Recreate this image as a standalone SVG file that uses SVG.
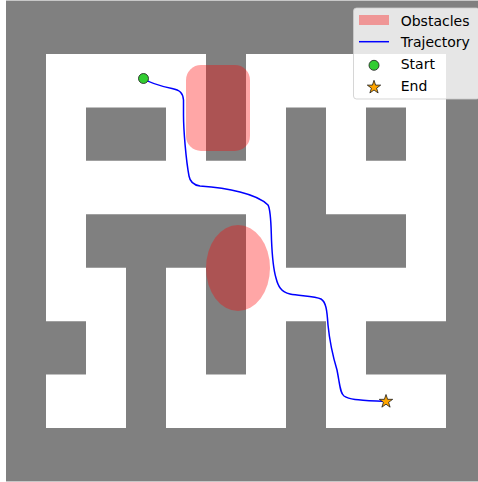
<svg xmlns="http://www.w3.org/2000/svg" width="478" height="482" viewBox="0 0 478 482">
<style>
.wall{fill:#808080}
.floor{fill:#ffffff}
.obst{fill:#ff0000;fill-opacity:0.35}
.traj{fill:none;stroke:#0000ff;stroke-width:1.5;stroke-linejoin:round;stroke-linecap:round}
.start{fill:#32cd32;stroke:#1a1a1a;stroke-width:0.8}
.end{fill:#ffa500;stroke:#1a1a1a;stroke-width:0.8}
.lt{font-family:"DejaVu Sans","Liberation Sans",sans-serif;font-size:14px;fill:#000}
</style>
<defs>
<path id="star" d="M0,-7 L1.587,-2.184 L6.657,-2.163 L2.568,0.834 L4.114,5.663 L0,2.7 L-4.114,5.663 L-2.568,0.834 L-6.657,-2.163 L-1.587,-2.184Z"/>
</defs>
<rect width="478" height="482" fill="#ffffff"/>
<g id="maze">
<rect class="wall" x="6" y="0.57" width="472" height="480.87"/>
<path class="floor" d="M46,54h160v53.43h-160z M246,54h200v53.43h-200z
M46,107.43h40v53.43h-40z M166,107.43h40v53.43h-40z M246,107.43h40v53.43h-40z M326,107.43h40v53.43h-40z M406,107.43h40v53.43h-40z
M46,160.86h240v53.43h-240z M326,160.86h120v53.43h-120z
M46,214.29h40v53.43h-40z M246,214.29h40v53.43h-40z M406,214.29h40v53.43h-40z
M46,267.72h80v53.43h-80z M166,267.72h40v53.43h-40z M246,267.72h200v53.43h-200z
M86,321.15h40v53.43h-40z M166,321.15h40v53.43h-40z M246,321.15h40v53.43h-40z M326,321.15h40v53.43h-40z
M46,374.58h80v53.43h-80z M166,374.58h120v53.43h-120z M326,374.58h120v53.43h-120z"/>
</g>
<g id="obstacles">
<rect class="obst" x="186" y="65" width="64" height="86" rx="15" ry="15"/>
<ellipse class="obst" cx="238" cy="268" rx="32" ry="43"/>
</g>
<g id="connectors">
<path id="trajectory" class="traj" d="M143.5,78.5 C150,83 160,86 172,88.5 C180,90 183,93 183.5,100 L183.5,115 C183.5,130 186,160 189,176 C190,182 193,185 200,186 C215,187 225,188 240,192 C252,195 262,199 268,205 C271,210 271,225 271.5,240 C272,252 273,268 276,278 C278,286 281,292 290,294 C300,296 315,296 321,299 C326,302 327,310 328,325 C330,345 334,360 337,370 C340,385 340,393 344,396 C350,400 360,400 386,401.5"/>
</g>
<g id="start-node">
<circle class="start" cx="143.5" cy="78.5" r="5"/>
</g>
<g id="end-node">
<use href="#star" class="end" transform="translate(386,401.5)"/>
</g>
<g id="legend">
<rect x="353.5" y="8" width="126" height="91" rx="3" ry="3" fill="#ffffff" fill-opacity="0.8" stroke="#cccccc" stroke-opacity="0.8" stroke-width="1"/>
<rect class="obst" x="359" y="15" width="30" height="10"/>
<text class="lt" x="400.7" y="26">Obstacles</text>
<line x1="359" y1="41.7" x2="389" y2="41.7" stroke="#0000ff" stroke-width="1.5"/>
<text class="lt" x="400.7" y="47">Trajectory</text>
<circle class="start" cx="374" cy="65.3" r="5"/>
<text class="lt" x="400.7" y="69">Start</text>
<use href="#star" class="end" transform="translate(374,87.3)"/>
<text class="lt" x="400.7" y="91">End</text>
</g>
</svg>
